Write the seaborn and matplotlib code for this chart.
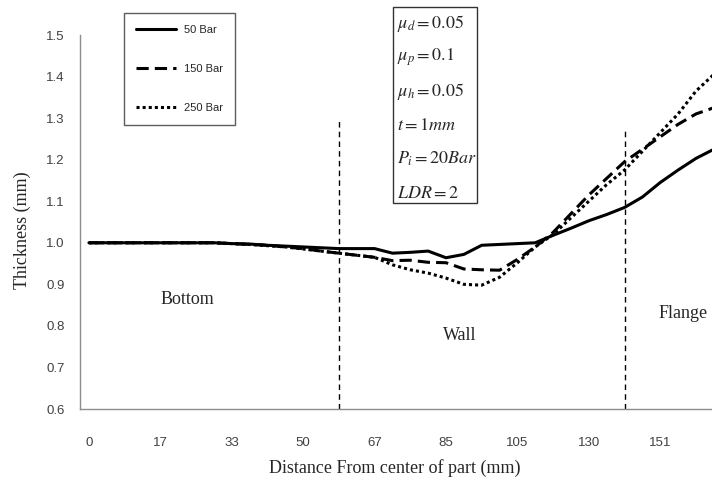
import matplotlib
matplotlib.use("Agg")
import matplotlib.pyplot as plt
from matplotlib.patches import Rectangle
import seaborn as sns
import pandas as pd
import numpy as np

# =========================
# DATA
# =========================

tick_labels = ["0", "17", "33", "50", "67", "85", "105", "130", "151"]

thick_50 = [1.0, 1.0, 1.0, 1.0, 1.0, 1.0, 1.0, 1.0, 0.998, 0.997,
            0.994, 0.992, 0.99, 0.988, 0.986, 0.986, 0.986, 0.975, 0.977, 0.98,
            0.964, 0.972, 0.994, 0.996, 0.998, 1.0, 1.018, 1.035, 1.053, 1.068,
            1.085, 1.11, 1.145, 1.175, 1.203, 1.225]

thick_150 = [1.0, 1.0, 1.0, 1.0, 1.0, 1.0, 1.0, 1.0, 0.998, 0.996,
             0.994, 0.99, 0.986, 0.98, 0.975, 0.97, 0.965, 0.957, 0.958, 0.953,
             0.952, 0.937, 0.935, 0.934, 0.96, 0.99, 1.025, 1.07, 1.115, 1.155,
             1.195, 1.225, 1.255, 1.285, 1.31, 1.325]

thick_250 = [1.0, 1.0, 1.0, 1.0, 1.0, 1.0, 1.0, 1.0, 0.998, 0.996,
             0.993, 0.99, 0.985, 0.98, 0.975, 0.97, 0.965, 0.947, 0.935, 0.927,
             0.915, 0.9, 0.898, 0.917, 0.952, 0.99, 1.02, 1.06, 1.1, 1.14,
             1.175, 1.22, 1.265, 1.31, 1.365, 1.405]

series_names = ["50 Bar", "150 Bar", "250 Bar"]

# region boundaries (category index)
region_lines = [14, 30]
region_tops = [1.30, 1.27]

params = [r"$\mu_d = 0.05$", r"$\mu_p = 0.1$", r"$\mu_h = 0.05$",
          r"$t = 1mm$", r"$P_i = 20Bar$", r"$LDR = 2$"]

# =========================
# LONG FORMAT TABLE
# =========================

n = len(thick_50)
df = pd.DataFrame({
    "cat": list(range(n)) * 3,
    "thickness": thick_50 + thick_150 + thick_250,
    "pressure": [s for s in series_names for _ in range(n)],
})

# =========================
# FIGURE
# =========================

sns.set_style("white")
plt.rcParams["mathtext.fontset"] = "stix"

W, H = 712, 488
fig = plt.figure(figsize=(W / 100, H / 100), dpi=100)
ax = fig.add_axes([80 / W, (H - 409) / H, (W - 80) / W, (409 - 35) / H])

sns.lineplot(
    data=df, x="cat", y="thickness", hue="pressure", style="pressure",
    hue_order=series_names, style_order=series_names,
    palette=["black"] * 3,
    dashes={"50 Bar": "", "150 Bar": (4, 2), "250 Bar": (1, 1)},
    linewidth=2.2, legend=False, ax=ax,
)

for x, top in zip(region_lines, region_tops):
    ax.vlines(x, 0.6, top, colors="black", linestyles=(0, (4, 3)), linewidth=1)

ax.set_xlim(-0.5, 34.9)
ax.set_ylim(0.6, 1.5)

# axes styling
for side in ["top", "right"]:
    ax.spines[side].set_visible(False)
for side in ["left", "bottom"]:
    ax.spines[side].set_color("#8c8c8c")
    ax.spines[side].set_linewidth(1)

ax.set_yticks(np.arange(0.6, 1.51, 0.1))
ax.set_yticklabels([f"{v:.1f}" for v in np.arange(0.6, 1.51, 0.1)])
ax.set_xticks(range(0, 4 * len(tick_labels), 4))
ax.set_xticklabels(tick_labels)
ax.set_xticks(np.arange(-0.5, 35, 1), minor=True)
ax.tick_params(axis="x", which="major", length=0, pad=20,
               labelsize=9.5, labelcolor="#404040")
ax.tick_params(axis="x", which="minor", length=5, width=1,
               color="#8c8c8c", direction="out")
ax.tick_params(axis="y", length=5, width=1, color="#8c8c8c",
               direction="out", labelsize=9.5, labelcolor="#404040", pad=6)
for lab in ax.get_xticklabels() + ax.get_yticklabels():
    lab.set_family(["Liberation Sans", "DejaVu Sans"])

ax.set_xlabel("")
ax.set_ylabel("")
serif = ["Liberation Serif", "DejaVu Serif"]
fig.text(22 / W, 1 - 230 / H, "Thickness (mm)", rotation=90, ha="center",
         va="center", family=serif, fontsize=13)
fig.text(395 / W, 1 - 468 / H, "Distance From center of part (mm)",
         ha="center", va="center", family=serif, fontsize=13)

# region labels
fig.text(187 / W, 1 - 300 / H, "Bottom", ha="center", va="center",
         family=serif, fontsize=13)
fig.text(460 / W, 1 - 335 / H, "Wall", ha="center", va="center",
         family=serif, fontsize=13)
fig.text(659 / W, 1 - 314 / H, "Flange", ha="left", va="center",
         family=serif, fontsize=13)

# legend box
leg_styles = ["-", (0, (4, 2)), (0, (1, 1))]
handles = [plt.Line2D([], [], color="black", linewidth=2.2, linestyle=s)
           for s in leg_styles]
fig.legend(handles, series_names, loc="upper left",
           bbox_to_anchor=(124 / W, 1 - 13 / H), borderaxespad=0,
           frameon=True, fancybox=False, edgecolor="#333333",
           handlelength=3.6, labelspacing=2.6,
           borderpad=1.1, handletextpad=0.7,
           prop={"family": ["Liberation Sans", "DejaVu Sans"], "size": 8})

# parameter box
fig.patches.append(Rectangle((393 / W, 1 - 203 / H), 84 / W, 196 / H,
                             transform=fig.transFigure, fill=False,
                             edgecolor="#333333", linewidth=1))
for i, p in enumerate(params):
    fig.text(397 / W, 1 - (23 + 34 * i) / H, p, ha="left", va="center",
             fontsize=13)

fig.savefig("out.png", dpi=100)
